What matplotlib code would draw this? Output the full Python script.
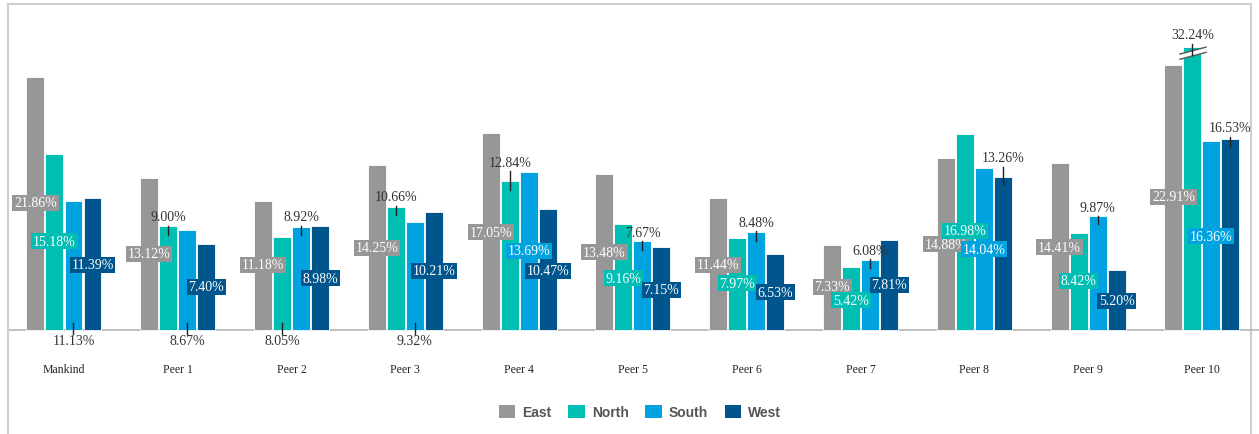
import numpy as np
import matplotlib.pyplot as plt
from matplotlib.patches import Patch, Polygon

categories = ["Mankind", "Peer 1", "Peer 2", "Peer 3", "Peer 4", "Peer 5",
              "Peer 6", "Peer 7", "Peer 8", "Peer 9", "Peer 10"]
series = ["East", "North", "South", "West"]
east = [21.86, 13.12, 11.18, 14.25, 17.05, 13.48, 11.44, 7.33, 14.88, 14.41, 22.91]
north = [15.18, 9.00, 8.05, 10.66, 12.84, 9.16, 7.97, 5.42, 16.98, 8.42, 32.24]
south = [11.13, 8.67, 8.92, 9.32, 13.69, 7.67, 8.48, 6.08, 14.04, 9.87, 16.36]
west = [11.39, 7.40, 8.98, 10.21, 10.47, 7.15, 6.53, 7.81, 13.26, 5.20, 16.53]

# label placement per bar: "in" = boxed label, "up" = above with leader,
# "down" = below the axis with leader
label_mode = [
    ["in", "in", "down", "in"],
    ["in", "up", "down", "in"],
    ["in", "down", "up", "in"],
    ["in", "up", "down", "in"],
    ["in", "up", "in", "in"],
    ["in", "in", "up", "in"],
    ["in", "in", "up", "in"],
    ["in", "in", "up", "in"],
    ["in", "in", "in", "up"],
    ["in", "in", "up", "in"],
    ["in", "up", "in", "up"],
]
label_y = [
    [10.98, 7.69, -0.95, 5.62],
    [6.57, 9.77, -0.95, 3.72],
    [5.62, -0.95, 9.77, 4.49],
    [7.09, 11.50, -0.95, 5.10],
    [8.47, 14.52, 6.83, 5.10],
    [6.74, 4.49, 8.47, 3.46],
    [5.62, 4.06, 9.33, 3.28],
    [3.72, 2.59, 6.91, 3.89],
    [7.43, 8.56, 7.00, 14.87],
    [7.17, 4.24, 10.63, 2.51],
    [11.50, 25.50, 8.12, 17.46],
]
cap = 24.5  # broken bar height for values that run off the chart

colors = ["#979797", "#00BFB2", "#00A3E0", "#00558C"]
values = [east, north, south, west]

W, H = 1259, 435
fig = plt.figure(figsize=(W / 100, H / 100), dpi=100)
ax = fig.add_axes([8 / W, 0, (1251 - 8) / W, (435 - 5) / H])
ax.set_xlim(-0.492, 10.431)
ax.set_ylim(-(435 - 331) / 11.57, (331 - 5) / 11.57)
ax.set_xticks([])
ax.set_yticks([])
for s in ["bottom", "right"]:
    ax.spines[s].set_visible(False)
for s in ["left", "top"]:
    ax.spines[s].set_color("#cfcfcf")
    ax.spines[s].set_linewidth(1.5)
ax.plot([1, 1], [0, 1], transform=ax.transAxes, color="#cfcfcf", lw=1.5,
        clip_on=False)
ax.axhline(0, color="#b5b5b5", lw=1.2, xmin=0, xmax=1.01, clip_on=False)

serif = "Liberation Serif"
x = np.arange(len(categories))
pitch = 0.167
width = 0.158
for j, vals in enumerate(values):
    xs = x + (j - 1.5) * pitch
    heights = [min(v, cap) for v in vals]
    ax.bar(xs, heights, width=width, color=colors[j], edgecolor="white",
           linewidth=0.6, zorder=2)
    for i, v in enumerate(vals):
        mode = label_mode[i][j]
        ly = label_y[i][j]
        txt = f"{v:.2f}%"
        h = heights[i]
        if mode == "in":
            ax.text(xs[i], ly, txt, ha="center", va="center", fontsize=10,
                    family=serif, color="white", zorder=4,
                    bbox=dict(boxstyle="square,pad=0.12", fc=colors[j],
                              ec="none"))
        elif mode == "up":
            ax.text(xs[i], ly, txt, ha="center", va="center", fontsize=10,
                    family=serif, color="#333333", zorder=4)
            ax.plot([xs[i], xs[i]], [ly - 0.75, h - 0.75], color="#222222",
                    lw=1.0, zorder=5)
        else:
            ax.text(xs[i], ly, txt, ha="center", va="center", fontsize=10,
                    family=serif, color="#333333", zorder=4)
            ax.plot([xs[i], xs[i]], [0.6, -0.35], color="#222222", lw=1.0,
                    zorder=5)

# break marks on the clipped bar
for i, v in enumerate(north):
    if v > cap:
        bx = x[i] - 0.5 * pitch
        x0, x1 = bx - 0.11, bx + 0.12
        y0, y1 = 23.4, 24.0
        gap = 0.45
        ax.add_patch(Polygon([[x0, y0], [x1, y1], [x1, y1 + gap], [x0, y0 + gap]],
                             closed=True, fc="white", ec="none", zorder=3))
        ax.plot([x0, x1], [y0, y1], color="#555555", lw=1.0, zorder=4)
        ax.plot([x0, x1], [y0 + gap, y1 + gap], color="#555555", lw=1.0,
                zorder=4)

for i, c in enumerate(categories):
    ax.text(x[i], -3.4, c, ha="center", va="center", fontsize=8.5,
            family=serif, color="#222222")

handles = [Patch(facecolor=c, edgecolor="none") for c in colors]
leg = fig.legend(handles, series, loc="center", ncol=4,
                 bbox_to_anchor=(640 / W, 1 - 413 / H), frameon=False,
                 handlelength=1.2, handleheight=1.1, handletextpad=0.5,
                 columnspacing=1.2,
                 prop=dict(family="Liberation Sans", weight="bold", size=10))
for t in leg.get_texts():
    t.set_color("#555555")

fig.savefig("out.png", dpi=100)
